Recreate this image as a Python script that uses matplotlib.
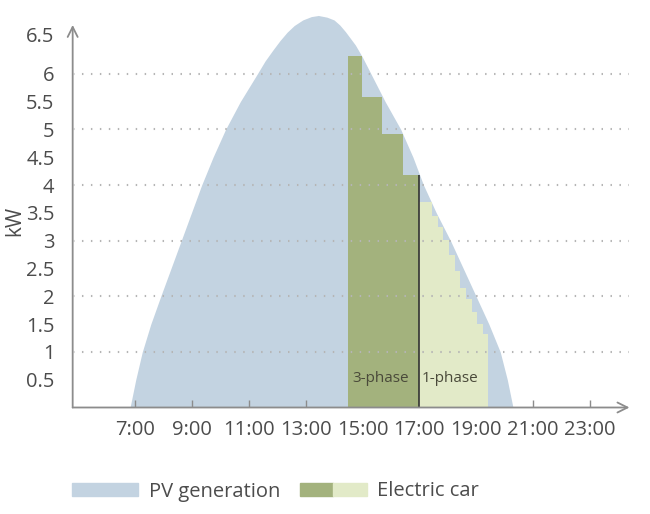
import matplotlib
matplotlib.use("Agg")
import matplotlib.pyplot as plt
import matplotlib.transforms as mtransforms
from matplotlib.patches import Patch
from matplotlib.legend_handler import HandlerTuple

plt.rcParams['font.family'] = ['Open Sans', 'DejaVu Sans']

# PV generation outline (hour, kW)
pv_hour = [6.82, 7.02, 7.25, 7.55, 7.9, 8.26, 8.62, 8.98, 9.34, 9.74, 10.18, 10.7,
           11.3, 11.57, 11.85, 12.1, 12.35, 12.6, 12.9, 13.2, 13.45, 13.75, 14.0,
           14.2, 14.4, 14.75, 15.0, 15.3, 15.8, 16.35, 16.78, 17.15, 17.6, 18.1,
           18.55, 19.0, 19.45, 19.85, 20.1, 20.3]
pv_kw = [0, 0.5, 1, 1.5, 2, 2.5, 3, 3.5, 4, 4.5, 5, 5.5,
         6, 6.23, 6.43, 6.6, 6.75, 6.87, 6.97, 7.03, 7.05, 7.02, 6.97,
         6.88, 6.76, 6.52, 6.3, 6.0, 5.5, 5.0, 4.5, 4.0, 3.5, 3.0,
         2.5, 2.0, 1.5, 1.0, 0.5, 0]

# car charging, 3-phase steps
three_start = [14.5, 15.0, 15.69, 16.43]
three_width = [0.5, 0.69, 0.74, 0.57]
three_kw = [6.33, 5.59, 4.92, 4.18]

# car charging, 1-phase steps
one_start = [17.0, 17.45, 17.65, 17.85, 18.05, 18.25, 18.45, 18.65, 18.85, 19.05, 19.25]
one_width = [0.45, 0.2, 0.2, 0.2, 0.2, 0.2, 0.2, 0.2, 0.2, 0.2, 0.18]
one_kw = [3.70, 3.45, 3.25, 3.02, 2.75, 2.45, 2.15, 1.95, 1.72, 1.5, 1.33]

x_ticks = [7, 9, 11, 13, 15, 17, 19, 21, 23]
x_labels = ["7:00", "9:00", "11:00", "13:00", "15:00", "17:00", "19:00", "21:00", "23:00"]
y_ticks = [0.5, 1, 1.5, 2, 2.5, 3, 3.5, 4, 4.5, 5, 5.5, 6, 6.5]
y_labels = ["0.5", "1", "1.5", "2", "2.5", "3", "3.5", "4", "4.5", "5", "5.5", "6", "6.5"]
grid_levels = [1, 2, 3, 4, 5, 6]

blue = "#c3d3e1"
dark_green = "#a3b27d"
light_green = "#e2eac8"
text_col = "#4c4c4c"
axis_col = "#8c8c8c"

x_min, x_max = 4.8, 24.4
y_top = 6.88

fig = plt.figure(figsize=(6.5, 5.14), dpi=100)
ax = fig.add_axes([0.1118, 0.2072, 0.8566, 0.7897])

ax.fill_between(pv_hour, pv_kw, 0, color=blue, lw=0, zorder=1)
ax.bar(three_start, three_kw, width=three_width, align='edge', color=dark_green, lw=0, zorder=2)
ax.bar(one_start, one_kw, width=one_width, align='edge', color=light_green, lw=0, zorder=2)
ax.vlines(17.0, 0, three_kw[-1], color="#333333", lw=1.2, zorder=3)

ax.hlines(grid_levels, x_min, x_max, colors="#b5b5b5", linestyles=(0, (0.7, 3.6)), lw=1.5, zorder=4)

ax.text(15.64, 0.53, "3-phase", ha='center', va='center', fontsize=11, color="#4a4a3a", zorder=5)
ax.text(18.07, 0.53, "1-phase", ha='center', va='center', fontsize=11, color="#4a4a3a", zorder=5)

ax.set_xlim(x_min, x_max)
ax.set_ylim(0, 7.3)
for s in ['top', 'right', 'left', 'bottom']:
    ax.spines[s].set_visible(False)

arrow = dict(arrowstyle='->', color=axis_col, lw=1.3, shrinkA=0, shrinkB=0, mutation_scale=18)
ax.annotate('', xy=(x_max, 0), xytext=(x_min, 0), arrowprops=arrow, annotation_clip=False)
ax.annotate('', xy=(x_min, y_top), xytext=(x_min, 0), arrowprops=arrow, annotation_clip=False)

ax.set_xticks(x_ticks)
ax.set_xticklabels(x_labels)
ax.set_yticks(y_ticks)
ax.set_yticklabels(y_labels)
ax.tick_params(axis='x', direction='in', length=5, width=1, color=axis_col,
               labelsize=14.5, labelcolor=text_col, pad=9)
ax.tick_params(axis='y', length=0, labelsize=14.5, labelcolor=text_col, pad=13)

# the top label sits a little higher in the original
top_label = ax.yaxis.get_major_ticks()[-1].label1
top_label.set_transform(top_label.get_transform() +
                        mtransforms.ScaledTranslation(0, 8 / 72, fig.dpi_scale_trans))

fig.text(15 / 650, 1 - 221 / 514, "kW", rotation=90, ha='center', va='center',
         fontsize=15, color=text_col)

handles = [Patch(color=blue), (Patch(color=dark_green), Patch(color=light_green))]
fig.legend(handles, ["PV generation", "Electric car"], loc='center left',
           bbox_to_anchor=(72 / 650, (514 - 491.5) / 514), ncol=2, frameon=False,
           fontsize=14.5, labelcolor=text_col, handlelength=3.3, handleheight=0.65,
           handletextpad=0.5, columnspacing=1.0, borderpad=0, borderaxespad=0,
           handler_map={tuple: HandlerTuple(ndivide=None, pad=0)})

fig.savefig("out.png", dpi=100)
